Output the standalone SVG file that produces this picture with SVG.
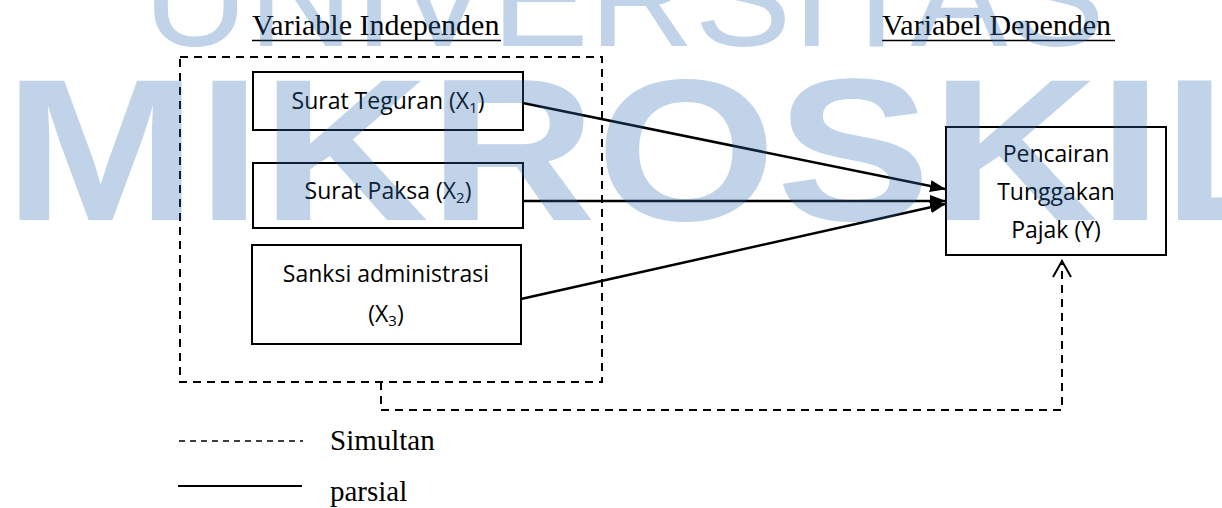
<svg xmlns="http://www.w3.org/2000/svg" width="1222" height="508" viewBox="0 0 1222 508">
  <style>
    .title { font-family: "Liberation Serif", "Times New Roman", serif; font-size: 30px; fill: #000; }
    .legend { font-family: "Liberation Serif", "Times New Roman", serif; font-size: 29px; fill: #000; }
    .box { fill: none; stroke: #000; stroke-width: 2; }
    .lbl { font-family: "Open Sans", "Noto Sans", sans-serif; font-size: 23px; fill: #000; text-anchor: middle; }
    .sub { font-size: 15px; }
    .solid { fill: none; stroke: #000; stroke-width: 2.5; }
    .dash { fill: none; stroke: #000; stroke-width: 2; stroke-dasharray: 8 6; }
    .wm { font-family: "Liberation Sans", Arial, sans-serif; fill: #2d6cb2; fill-opacity: 0.3; }
  </style>
  <defs>
    <marker id="arr" markerWidth="16" markerHeight="12" refX="15" refY="6" orient="auto" markerUnits="userSpaceOnUse">
      <path d="M0,0 L16,6 L0,12 Z" fill="#000"/>
    </marker>
  </defs>
  <rect width="1222" height="508" fill="#fff"/>

  <g id="headers">
    <text class="title" x="252" y="35">Variable Independen</text>
    <line x1="252" y1="40.5" x2="501" y2="40.5" stroke="#000" stroke-width="1.5"/>
    <text class="title" x="882" y="35">Variabel Dependen</text>
    <line x1="882" y1="40.5" x2="1115" y2="40.5" stroke="#000" stroke-width="1.5"/>
  </g>

  <g id="independent-group">
    <rect x="180" y="57" width="422" height="325" class="dash"/>
  </g>

  <g id="x1">
    <rect x="253" y="72" width="270" height="58" class="box"/>
    <text class="lbl" x="388" y="109">Surat Teguran (X<tspan class="sub" dy="4">1</tspan><tspan dy="-4">)</tspan></text>
  </g>
  <g id="x2">
    <rect x="253" y="163" width="270" height="65" class="box"/>
    <text class="lbl" x="388" y="199">Surat Paksa (X<tspan class="sub" dy="4">2</tspan><tspan dy="-4">)</tspan></text>
  </g>
  <g id="x3">
    <rect x="252" y="245" width="269" height="99" class="box"/>
    <text class="lbl" x="386" y="282">Sanksi administrasi</text>
    <text class="lbl" x="386" y="322">(X<tspan class="sub" dy="4">3</tspan><tspan dy="-4">)</tspan></text>
  </g>
  <g id="y">
    <rect x="946" y="127" width="220" height="128" class="box"/>
    <text class="lbl" x="1056" y="162">Pencairan</text>
    <text class="lbl" x="1056" y="200">Tunggakan</text>
    <text class="lbl" x="1056" y="238">Pajak (Y)</text>
  </g>

  <g id="connectors">
    <line x1="523" y1="103" x2="945" y2="189" class="solid" marker-end="url(#arr)"/>
    <line x1="523" y1="201" x2="945" y2="201" class="solid" marker-end="url(#arr)"/>
    <line x1="521" y1="299" x2="945" y2="204" class="solid" marker-end="url(#arr)"/>
    <path d="M381,382 V410 H1062 V260" class="dash"/>
    <path d="M1053,277 L1062,261 L1071,277" fill="none" stroke="#000" stroke-width="2"/>
  </g>

  <g id="legend">
    <line x1="179" y1="441" x2="303" y2="441" stroke="#000" stroke-width="1.5" stroke-dasharray="6 5"/>
    <text class="legend" x="330" y="450">Simultan</text>
    <line x1="178" y1="486" x2="302" y2="486" stroke="#000" stroke-width="2"/>
    <text class="legend" x="330" y="501">parsial</text>
  </g>

  <g id="watermark">
    <text class="wm" x="143" y="46" font-size="140" textLength="962" lengthAdjust="spacingAndGlyphs">UNIVERSITAS</text>
    <text class="wm" x="4" y="220" font-size="203" font-weight="bold" textLength="1300" lengthAdjust="spacingAndGlyphs">MIKROSKIL</text>
  </g>
</svg>
